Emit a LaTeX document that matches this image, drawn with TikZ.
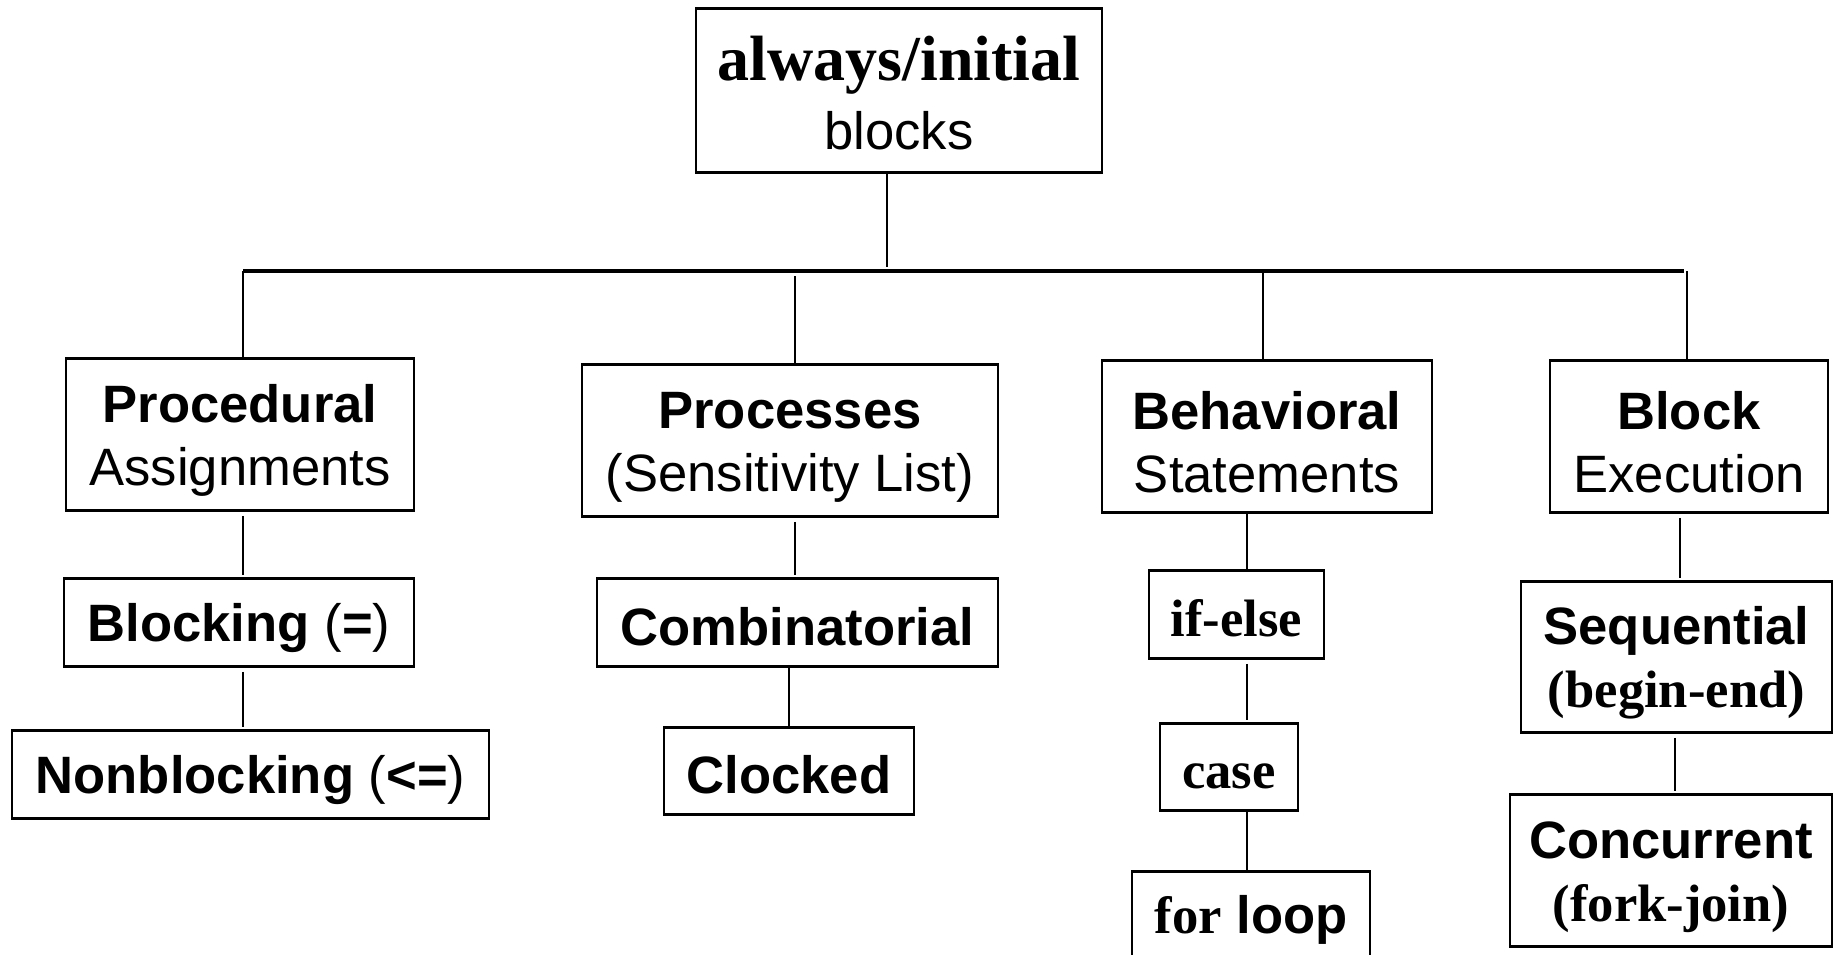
\documentclass[tikz,border=0pt]{standalone}
\usepackage{fontspec}
\setmainfont{Liberation Sans}
\newfontfamily\tms{Liberation Serif}
\newcommand\upst{\rule{0pt}{25pt}}
\begin{document}
\begin{tikzpicture}[x=0.5pt,y=-0.5pt,
  ln/.style={line width=0.75pt},
  gap/.style={ln, shorten <=2pt, shorten >=1pt},
  bar/.style={line width=1.9pt},
  hedge/.style={path picture={\draw[line width=1.6pt]
      (path picture bounding box.north west) -- (path picture bounding box.north east)
      (path picture bounding box.south west) -- (path picture bounding box.south east);}},
  box/.style={draw, line width=0.8pt, hedge, inner sep=0pt, align=center,
      font=\fontsize{26.3}{31.5}\selectfont}]
\useasboundingbox (0,0) rectangle (1834,954);
\fill[white] (0,0) rectangle (1834,954);

% nodes
\node[box, minimum width=203pt, minimum height=82.5pt] (top) at (899,90.5)
  {\upst{\fontsize{32}{33}\selectfont\tms\bfseries always/initial}\\[3pt]blocks};

\node[box, minimum width=174pt, minimum height=76.5pt] (proc) at (240,434.5)
  {\upst\textbf{Procedural}\\Assignments};
\node[box, minimum width=208pt, minimum height=76.5pt] (procs) at (790,440.5)
  {\upst\textbf{Processes}\\(Sensitivity List)};
\node[box, minimum width=165pt, minimum height=76.5pt] (behav) at (1267,436.5)
  {\upst\textbf{Behavioral}\\Statements};
\node[box, minimum width=139pt, minimum height=76.5pt] (block) at (1689,436.5)
  {\upst\textbf{Block}\\Execution};

\node[box, minimum width=175pt, minimum height=44.5pt] (blk) at (239,622.5)
  {\upst\textbf{Blocking} (\textbf{=})};
\node[box, minimum width=238.5pt, minimum height=44.5pt] (nonblk) at (250.5,774.5)
  {\upst\textbf{Nonblocking} (\textbf{<=})};

\node[box, minimum width=200.5pt, minimum height=44.5pt] (comb) at (797.5,622.5)
  {\rule{0pt}{23pt}\textbf{Combinatorial}};
\node[box, minimum width=125pt, minimum height=44pt] (clk) at (789,771)
  {\rule{0pt}{23pt}\textbf{Clocked}};

\node[box, minimum width=87.5pt, minimum height=44.5pt] (ifelse) at (1236.5,614.5)
  {\rule{0pt}{22pt}{\tms\bfseries if-else}};
\node[box, minimum width=69pt, minimum height=44pt] (case) at (1229,767)
  {\rule{0pt}{22pt}{\tms\bfseries case}};
\node[box, minimum width=119pt, minimum height=45pt] (forloop) at (1251,916)
  {\rule{0pt}{23pt}{\tms\bfseries for} \textbf{loop}};

\node[box, minimum width=155.5pt, minimum height=76pt] (seq) at (1676.5,657)
  {\upst\textbf{Sequential}\\{\tms\bfseries (begin-end)}};
\node[box, minimum width=161pt, minimum height=76.5pt] (conc) at (1671,870.5)
  {\upst\textbf{Concurrent}\\{\tms\bfseries (fork-join)}};

% coordinates
\coordinate (stemend) at (887,267);
\coordinate (barL) at (243,271);
\coordinate (barR) at (1684,271);
\coordinate (d1) at (243,271);
\coordinate (d2) at (795,276);
\coordinate (d3) at (1263,271);
\coordinate (d4) at (1687,271);
\coordinate (cx) at (1247,0);
\coordinate (bx1) at (1680,0);
\coordinate (bx2) at (1675,0);

% connectors
\draw[ln] (top.south -| stemend) -- (stemend);
\draw[bar] (barL) -- (barR);
\draw[ln] (d1) -- (proc.north -| d1);
\draw[ln] (d2) -- (procs.north -| d2);
\draw[ln] (d3) -- (behav.north -| d3);
\draw[ln] (d4) -- (block.north -| d4);

\draw[gap] (proc.south -| d1) -- (blk.north -| d1);
\draw[gap] (blk.south -| d1) -- (nonblk.north -| d1);

\draw[gap] (procs.south -| d2) -- (comb.north -| d2);
\draw[ln] (clk.north |- comb.south) -- (clk.north);

\draw[ln] (behav.south -| cx) -- (ifelse.north -| cx);
\draw[gap] (ifelse.south -| cx) -- (case.north -| cx);
\draw[ln] (case.south -| cx) -- (forloop.north -| cx);

\draw[gap] (block.south -| bx1) -- (seq.north -| bx1);
\draw[gap] (seq.south -| bx2) -- (conc.north -| bx2);
\end{tikzpicture}
\end{document}
